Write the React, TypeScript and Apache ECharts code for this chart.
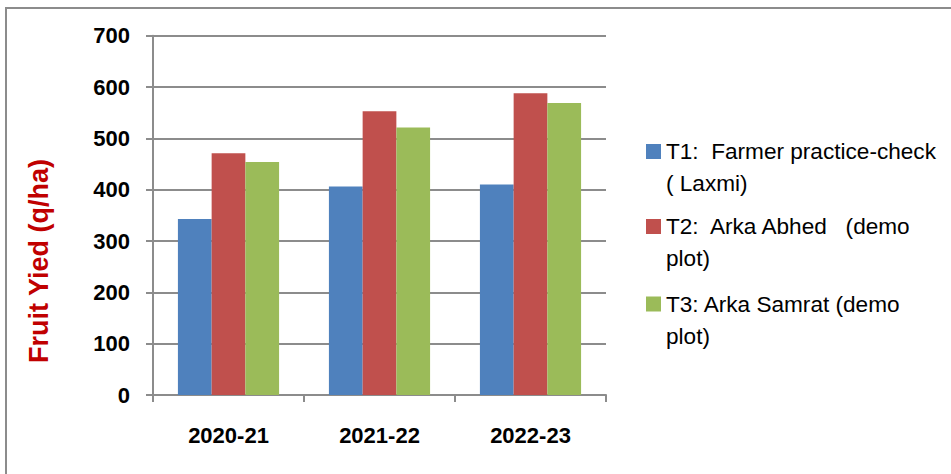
import React, { useEffect, useRef } from "react";
import * as echarts from "echarts";

const categories = ["2020-21", "2021-22", "2022-23"];
const seriesNames = [
  "T1:  Farmer practice-check ( Laxmi)",
  "T2:  Arka Abhed   (demo plot)",
  "T3: Arka Samrat (demo plot)",
];
const legendLabels = [
  "T1:  Farmer practice-check\n( Laxmi)",
  "T2:  Arka Abhed   (demo\nplot)",
  "T3: Arka Samrat (demo\nplot)",
];
const t1Values = [343, 406, 410];
const t2Values = [471, 553, 588];
const t3Values = [454, 521, 569];
const seriesValues = [t1Values, t2Values, t3Values];
const seriesColors = ["#4F81BD", "#C0504D", "#9BBB59"];
const yAxisTitle = "Fruit Yied (q/ha)";
const legendTops = [103.5, 178.5, 256];

export default function App() {
  const ref = useRef<HTMLDivElement>(null);
  useEffect(() => {
    if (!ref.current) return;
    const chart = echarts.init(ref.current, null, { renderer: "svg" });
    const grey = "#8c8c8c";
    const font = "'Liberation Sans', Arial, sans-serif";
    chart.setOption({
      animation: false,
      backgroundColor: "#ffffff",
      grid: { left: 153, top: 35.7, width: 453, height: 359.3, containLabel: false },
      xAxis: {
        type: "category",
        data: categories,
        axisLine: { show: true, lineStyle: { color: grey, width: 2 } },
        axisTick: { show: true, length: 7, alignWithLabel: false, lineStyle: { color: grey, width: 2 } },
        axisLabel: {
          margin: 29,
          fontSize: 22,
          fontWeight: "bold",
          color: "#000",
          fontFamily: font,
        },
        splitLine: { show: false },
      },
      yAxis: {
        type: "value",
        min: 0,
        max: 700,
        interval: 100,
        axisLine: { show: true, lineStyle: { color: grey, width: 2 } },
        axisTick: { show: true, length: 7, lineStyle: { color: grey, width: 2 } },
        axisLabel: {
          margin: 23,
          fontSize: 22,
          fontWeight: "bold",
          color: "#000",
          fontFamily: font,
        },
        splitLine: { show: true, lineStyle: { color: grey, width: 2 } },
      },
      legend: seriesNames.map((name, i) => ({
        data: [name],
        orient: "vertical",
        left: 646,
        top: legendTops[i],
        padding: 0,
        itemWidth: 15,
        itemHeight: 15,
        icon: "rect",
        selectedMode: false,
        formatter: () => "\n" + legendLabels[i],
        textStyle: {
          fontSize: 22.6,
          lineHeight: 32,
          color: "#000",
          fontFamily: font,
        },
      })),
      series: seriesNames.map((name, i) => ({
        name,
        type: "bar",
        data: seriesValues[i],
        barGap: "0%",
        barCategoryGap: "33%",
        itemStyle: { color: seriesColors[i] },
      })),
      graphic: [
        {
          type: "rect",
          shape: { x: 6, y: 8, width: 1200, height: 800 },
          style: { fill: "none", stroke: grey, lineWidth: 2 },
          silent: true,
        },
        {
          type: "text",
          x: 39,
          y: 261,
          rotation: Math.PI / 2,
          style: {
            text: yAxisTitle,
            fill: "#C00000",
            fontSize: 27,
            fontWeight: "bold",
            fontFamily: font,
            align: "center",
            verticalAlign: "middle",
          },
        },
      ],
    });
    return () => chart.dispose();
  }, []);
  return (
    <div
      ref={ref}
      style={{ position: "fixed", left: 0, top: 0, width: 951, height: 474 }}
    />
  );
}
